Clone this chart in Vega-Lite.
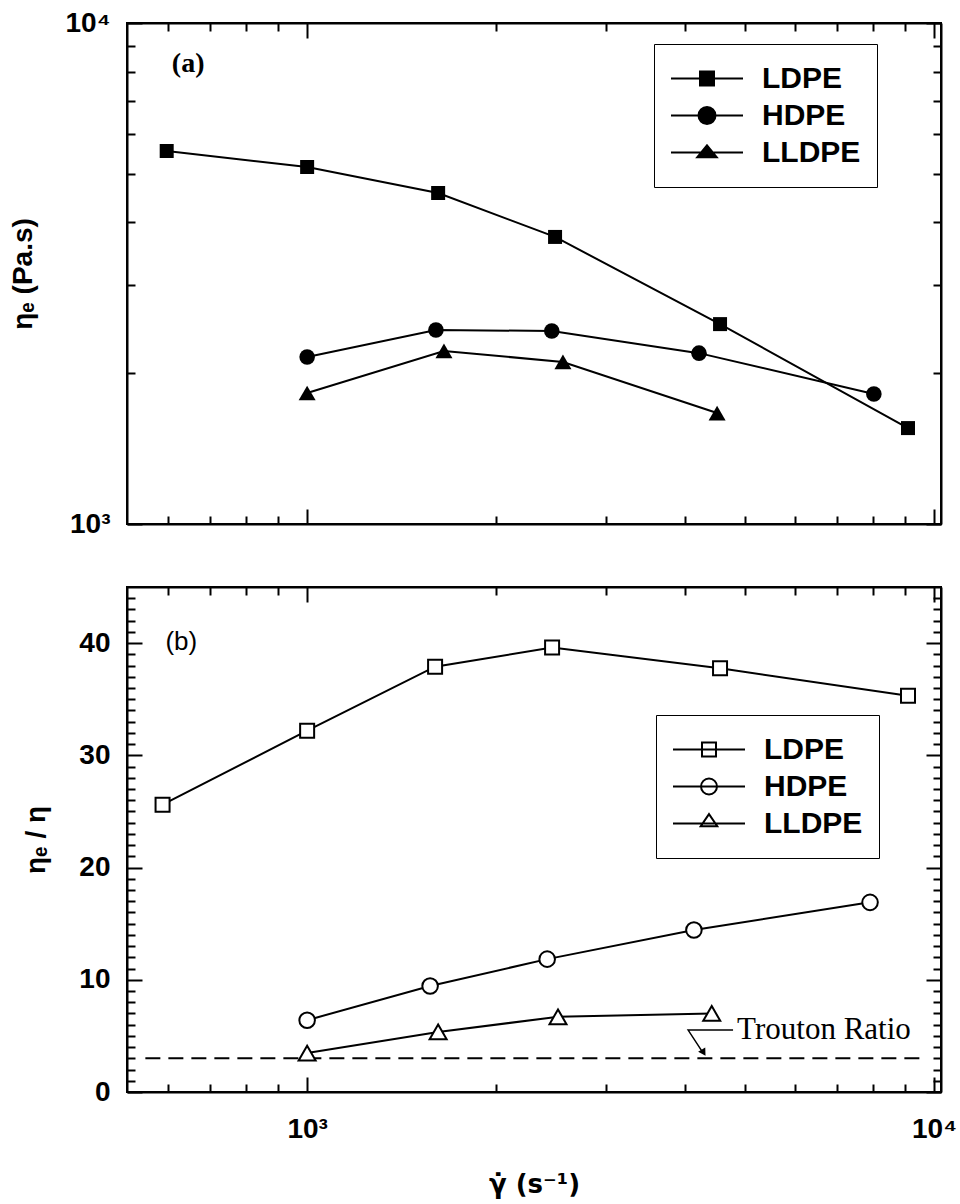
{
  "$schema": "https://vega.github.io/schema/vega-lite/v6.json",
  "padding": {"left": 8, "top": 8, "right": 10, "bottom": 5},
  "spacing": 46,
  "config": {
    "view": {"stroke": "black", "strokeWidth": 2},
    "axis": {
      "labelFont": "Liberation Sans", "labelFontSize": 28, "labelFontWeight": "bold", "labelColor": "black",
      "titleFont": "Liberation Sans", "titleFontSize": 28, "titleFontWeight": "bold", "titleColor": "black",
      "domainColor": "black", "domainWidth": 2, "tickColor": "black", "tickWidth": 2,
      "grid": false, "labelFlush": false, "labelOverlap": false
    },
    "legend": {
      "title": null, "orient": "none", "symbolSize": 5184, "symbolStrokeWidth": 2,
      "labelFont": "Liberation Sans", "labelFontSize": 30, "labelFontWeight": "bold", "labelColor": "black",
      "labelOffset": 18, "padding": 16, "strokeColor": "black", "clipHeight": 37, "rowPadding": 0
    }
  },
  "datasets": {
    "a": [
      {"polymer": "LDPE", "rate": 597, "value": 5553},
      {"polymer": "LDPE", "rate": 1000, "value": 5159},
      {"polymer": "LDPE", "rate": 1618, "value": 4578},
      {"polymer": "LDPE", "rate": 2486, "value": 3741},
      {"polymer": "LDPE", "rate": 4557, "value": 2506},
      {"polymer": "LDPE", "rate": 9089, "value": 1554},
      {"polymer": "HDPE", "rate": 1000, "value": 2154},
      {"polymer": "HDPE", "rate": 1605, "value": 2439},
      {"polymer": "HDPE", "rate": 2456, "value": 2428},
      {"polymer": "HDPE", "rate": 4218, "value": 2193},
      {"polymer": "HDPE", "rate": 8018, "value": 1818},
      {"polymer": "LLDPE", "rate": 1000, "value": 1826},
      {"polymer": "LLDPE", "rate": 1653, "value": 2215},
      {"polymer": "LLDPE", "rate": 2559, "value": 2106},
      {"polymer": "LLDPE", "rate": 4508, "value": 1665}
    ],
    "b": [
      {"polymer": "LDPE", "rate": 588, "value": 25.6},
      {"polymer": "LDPE", "rate": 1000, "value": 32.2},
      {"polymer": "LDPE", "rate": 1600, "value": 37.9},
      {"polymer": "LDPE", "rate": 2459, "value": 39.6},
      {"polymer": "LDPE", "rate": 4557, "value": 37.75},
      {"polymer": "LDPE", "rate": 9089, "value": 35.3},
      {"polymer": "HDPE", "rate": 1000, "value": 6.4},
      {"polymer": "HDPE", "rate": 1571, "value": 9.44},
      {"polymer": "HDPE", "rate": 2415, "value": 11.84},
      {"polymer": "HDPE", "rate": 4140, "value": 14.43},
      {"polymer": "HDPE", "rate": 7906, "value": 16.9},
      {"polymer": "LLDPE", "rate": 1000, "value": 3.47},
      {"polymer": "LLDPE", "rate": 1618, "value": 5.35},
      {"polymer": "LLDPE", "rate": 2513, "value": 6.7},
      {"polymer": "LLDPE", "rate": 4420, "value": 7.0}
    ]
  },
  "vconcat": [
    {
      "width": 814, "height": 501,
      "data": {"name": "a"},
      "resolve": {"scale": {"shape": "independent"}, "axis": {"x": "independent", "y": "independent"}},
      "layer": [
        {
          "mark": {"type": "line", "color": "black", "strokeWidth": 2},
          "encoding": {
            "x": {"field": "rate", "type": "quantitative", "scale": {"type": "log", "domain": [516, 10260], "nice": false},
              "axis": {"orient": "bottom", "values": [1000, 10000], "tickSize": -15, "labels": false, "title": null}},
            "y": {"field": "value", "type": "quantitative", "scale": {"type": "log", "domain": [1000, 10000], "nice": false},
              "axis": {"orient": "left", "values": [1000, 10000], "tickSize": -15, "labelPadding": 32,
                "labelExpr": "datum.value == 1000 ? '10³' : '10⁴'", "title": "ηₑ (Pa.s)", "titlePadding": 28}},
            "detail": {"field": "polymer"}
          }
        },
        {
          "mark": {"type": "point", "filled": true, "color": "black", "opacity": 1},
          "encoding": {
            "x": {"field": "rate", "type": "quantitative",
              "axis": {"orient": "bottom", "values": [600, 700, 800, 900, 2000, 3000, 4000, 5000, 6000, 7000, 8000, 9000], "tickSize": -8, "labels": false, "domain": false, "title": null}},
            "y": {"field": "value", "type": "quantitative",
              "axis": {"orient": "left", "values": [2000, 3000, 4000, 5000, 6000, 7000, 8000, 9000], "tickSize": -8, "labels": false, "domain": false, "title": null}},
            "shape": {"field": "polymer", "type": "nominal", "scale": {"domain": ["LDPE", "HDPE", "LLDPE"], "range": ["square", "circle", "triangle-up"]}, "legend": null},
            "size": {"field": "polymer", "type": "nominal", "scale": {"domain": ["LDPE", "HDPE", "LLDPE"], "range": [196, 289, 300]}, "legend": null}
          }
        },
        {
          "transform": [{"filter": "datum.polymer == 'none'"}],
          "mark": {"type": "point", "filled": true, "fill": "black", "stroke": "black", "strokeWidth": 2, "opacity": 1},
          "encoding": {
            "x": {"field": "rate", "type": "quantitative",
              "axis": {"orient": "top", "values": [1000, 10000], "tickSize": -15, "labels": false, "title": null}},
            "y": {"field": "value", "type": "quantitative",
              "axis": {"orient": "right", "values": [1000, 10000], "tickSize": -15, "labels": false, "title": null}},
            "shape": {"field": "polymer", "type": "nominal",
              "scale": {"domain": ["LDPE", "HDPE", "LLDPE"], "range": [
                "M-1,0H1M-0.194,-0.194H0.194V0.194H-0.194Z",
                "M-1,0H1M-0.236,0A0.236,0.236,0,1,0,0.236,0A0.236,0.236,0,1,0,-0.236,0Z",
                "M-1,0H1M0,-0.2L0.27,0.13L-0.27,0.13Z"]},
              "legend": {"legendX": 527, "legendY": 21, "encode": {
                "legend": {"update": {"strokeWidth": {"value": 2}}}}}}
          }
        },
        {
          "data": {"values": [{"x": 646, "y": 8279, "label": "(a)"}]},
          "mark": {"type": "text", "font": "Liberation Serif", "fontSize": 28, "fontWeight": "bold", "color": "black", "align": "center", "baseline": "middle"},
          "encoding": {
            "x": {"field": "x", "type": "quantitative",
              "axis": {"orient": "top", "values": [600, 700, 800, 900, 2000, 3000, 4000, 5000, 6000, 7000, 8000, 9000], "tickSize": -8, "labels": false, "domain": false, "title": null}},
            "y": {"field": "y", "type": "quantitative",
              "axis": {"orient": "right", "values": [2000, 3000, 4000, 5000, 6000, 7000, 8000, 9000], "tickSize": -8, "labels": false, "domain": false, "title": null}},
            "text": {"field": "label"}
          }
        }
      ]
    },
    {
      "width": 814, "height": 505,
      "data": {"name": "b"},
      "resolve": {"scale": {"shape": "independent"}, "axis": {"x": "independent", "y": "independent"}},
      "layer": [
        {
          "mark": {"type": "line", "color": "black", "strokeWidth": 2},
          "encoding": {
            "x": {"field": "rate", "type": "quantitative", "scale": {"type": "log", "domain": [516, 10260], "nice": false},
              "axis": {"orient": "bottom", "values": [1000, 10000], "tickSize": -15, "labelPadding": 38,
                "labelExpr": "datum.value == 1000 ? '10³' : '10⁴'", "title": "γ̇  (s⁻¹)", "titlePadding": 28,
                "titleFont": "DejaVu Sans", "titleFontSize": 26}},
            "y": {"field": "value", "type": "quantitative", "scale": {"domain": [0, 45], "nice": false},
              "axis": {"orient": "left", "values": [0, 10, 20, 30, 40], "tickSize": -15, "labelPadding": 32, "title": "ηₑ / η", "titlePadding": 28}},
            "detail": {"field": "polymer"}
          }
        },
        {
          "data": {"values": [{"x": 552, "x2": 9675, "y": 3}]},
          "mark": {"type": "rule", "color": "black", "strokeWidth": 2, "strokeDash": [15, 8]},
          "encoding": {
            "x": {"field": "x", "type": "quantitative", "axis": null},
            "x2": {"field": "x2"},
            "y": {"field": "y", "type": "quantitative", "axis": null}
          }
        },
        {
          "mark": {"type": "point", "filled": true, "fill": "white", "stroke": "black", "strokeWidth": 2, "opacity": 1},
          "encoding": {
            "x": {"field": "rate", "type": "quantitative",
              "axis": {"orient": "bottom", "values": [600, 700, 800, 900, 2000, 3000, 4000, 5000, 6000, 7000, 8000, 9000], "tickSize": -8, "labels": false, "domain": false, "title": null}},
            "y": {"field": "value", "type": "quantitative",
              "axis": {"orient": "left", "values": [1,2,3,4,5,6,7,8,9,11,12,13,14,15,16,17,18,19,21,22,23,24,25,26,27,28,29,31,32,33,34,35,36,37,38,39,41,42,43,44], "tickSize": -8, "labels": false, "domain": false, "title": null}},
            "shape": {"field": "polymer", "type": "nominal", "scale": {"domain": ["LDPE", "HDPE", "LLDPE"], "range": ["square", "circle", "triangle-up"]}, "legend": null},
            "size": {"field": "polymer", "type": "nominal", "scale": {"domain": ["LDPE", "HDPE", "LLDPE"], "range": [196, 289, 225]}, "legend": null}
          }
        },
        {
          "transform": [{"filter": "datum.polymer == 'none'"}],
          "mark": {"type": "point", "filled": true, "fill": "white", "stroke": "black", "strokeWidth": 2, "opacity": 1},
          "encoding": {
            "x": {"field": "rate", "type": "quantitative",
              "axis": {"orient": "top", "values": [1000, 10000], "tickSize": -15, "labels": false, "title": null}},
            "y": {"field": "value", "type": "quantitative",
              "axis": {"orient": "right", "values": [0, 10, 20, 30, 40], "tickSize": -15, "labels": false, "title": null}},
            "shape": {"field": "polymer", "type": "nominal",
              "scale": {"domain": ["LDPE", "HDPE", "LLDPE"], "range": [
                "M-1,0H1M-0.194,-0.194H0.194V0.194H-0.194Z",
                "M-1,0H1M-0.222,0A0.222,0.222,0,1,0,0.222,0A0.222,0.222,0,1,0,-0.222,0Z",
                "M-1,0H1M0,-0.26L0.23,0.075L-0.23,0.075Z"]},
              "legend": {"legendX": 529, "legendY": 128, "encode": {
                "legend": {"update": {"strokeWidth": {"value": 2}}}}}}
          }
        },
        {
          "data": {"values": [{"x": 630, "y": 40.07, "label": "(b)"}]},
          "mark": {"type": "text", "font": "Liberation Sans", "fontSize": 26, "color": "black", "align": "center", "baseline": "middle"},
          "encoding": {
            "x": {"field": "x", "type": "quantitative",
              "axis": {"orient": "top", "values": [600, 700, 800, 900, 2000, 3000, 4000, 5000, 6000, 7000, 8000, 9000], "tickSize": -8, "labels": false, "domain": false, "title": null}},
            "y": {"field": "y", "type": "quantitative",
              "axis": {"orient": "right", "values": [1,2,3,4,5,6,7,8,9,11,12,13,14,15,16,17,18,19,21,22,23,24,25,26,27,28,29,31,32,33,34,35,36,37,38,39,41,42,43,44], "tickSize": -8, "labels": false, "domain": false, "title": null}},
            "text": {"field": "label"}
          }
        },
        {
          "data": {"values": [{"x": 4780, "y": 5.52, "o": 1}, {"x": 4053, "y": 5.52, "o": 2}, {"x": 4266, "y": 3.62, "o": 3}]},
          "mark": {"type": "line", "color": "black", "strokeWidth": 1.5},
          "encoding": {
            "x": {"field": "x", "type": "quantitative", "axis": null},
            "y": {"field": "y", "type": "quantitative", "axis": null},
            "order": {"field": "o"}
          }
        },
        {
          "data": {"values": [{"x": 4290, "y": 3.5}]},
          "mark": {"type": "point", "shape": "triangle-down", "angle": 328, "size": 70, "filled": true, "color": "black", "opacity": 1},
          "encoding": {
            "x": {"field": "x", "type": "quantitative", "axis": null},
            "y": {"field": "y", "type": "quantitative", "axis": null}
          }
        },
        {
          "data": {"values": [{"x": 4852, "y": 5.52, "label": "Trouton Ratio"}]},
          "mark": {"type": "text", "font": "Liberation Serif", "fontSize": 31, "color": "black", "align": "left", "baseline": "middle"},
          "encoding": {
            "x": {"field": "x", "type": "quantitative", "axis": null},
            "y": {"field": "y", "type": "quantitative", "axis": null},
            "text": {"field": "label"}
          }
        }
      ]
    }
  ]
}
